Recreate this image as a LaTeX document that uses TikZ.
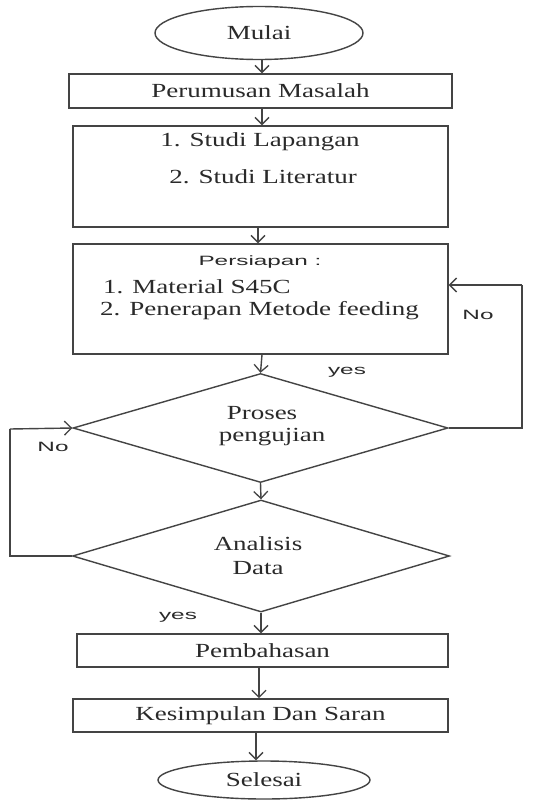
\documentclass[tikz,border=0pt]{standalone}
\usepackage{fontspec}
\usetikzlibrary{shapes.geometric,arrows.meta,calc}
\newfontfamily\serifx[FakeStretch=1.35]{Liberation Serif}
\newfontfamily\sansx[FakeStretch=1.8]{Liberation Sans}
\definecolor{ln}{HTML}{444444}
\definecolor{tx}{HTML}{2A2A2A}
\begin{document}
\begin{tikzpicture}[x=1pt,y=-1pt,
  every node/.style={text=tx},
  boxx/.style={draw=ln,line width=1.4pt,rectangle,inner sep=0pt},
  ovalx/.style={draw=ln,line width=1.4pt,ellipse,inner sep=0pt},
  diax/.style={draw=ln,line width=1.4pt,diamond,inner sep=0pt},
  stxt/.style={font=\serifx\fontsize{20}{24}\selectfont,inner sep=0pt},
  sstxt/.style={font=\sansx\fontsize{13.5}{16}\selectfont,inner sep=0pt},
  arr/.style={draw=ln,line width=1.4pt,-{Straight Barb[length=7pt,width=14pt,line width=1.3pt]}},
  lnx/.style={draw=ln,line width=1.4pt}]
\useasboundingbox[fill=white] (0,0) rectangle (545,800);

\node[ovalx,minimum width=208,minimum height=53,stxt] (mulai) at (259,33) {Mulai};
\node[boxx,minimum width=383,minimum height=34,stxt] (perumusan) at (260.5,91) {Perumusan Masalah};
\node[boxx,minimum width=375,minimum height=101] (studi) at (260.5,176.5) {};
\node[stxt] (s1) at (260,142) {1. Studi Lapangan};
\node[stxt] (s2) at (263,177) {2. Studi Literatur};
\node[boxx,minimum width=375,minimum height=110] (persiapan) at (260.5,299) {};
\node[sstxt] (p0) at (260,262) {Persiapan :};
\node[stxt,anchor=west] (p1) at (103,287) {1. Material S45C};
\node[stxt,anchor=west] (p2) at (100,311) {2. Penerapan Metode feeding};
\node[diax,minimum width=375,minimum height=109,aspect=3.44] (d1) at (260.5,428) {};
\node[stxt] (d1a) at (262,413) {Proses};
\node[stxt] (d1b) at (272,437) {pengujian};
\node[diax,minimum width=377,minimum height=112,aspect=3.37] (d2) at (261,556) {};
\node[stxt] (d2a) at (258,544) {Analisis};
\node[stxt] (d2b) at (258,568) {Data};
\node[boxx,minimum width=371,minimum height=33,stxt] (pembahasan) at (262.5,650.5) {Pembahasan};
\node[boxx,minimum width=375,minimum height=33,stxt,line width=1.7pt] (kesimpulan) at (260.5,715.5) {Kesimpulan Dan Saran};
\node[ovalx,minimum width=212,minimum height=38,stxt] (selesai) at (264,780) {Selesai};

\node[sstxt] (yes1) at (347,372) {yes};
\node[sstxt] (no1) at (478,315) {No};
\node[sstxt] (no2) at (53,447) {No};
\node[sstxt] (yes2) at (178,617) {yes};

\draw[arr] (mulai.south -| 262,0) -- (perumusan.north -| 262,0);
\draw[arr] (perumusan.south -| 262,0) -- (studi.north -| 262,0);
\draw[arr] (studi.south -| 258,0) -- (persiapan.north -| 258,0);
\draw[arr] (persiapan.south -| 262,0) -- (d1.north);
\draw[arr] (d1.south) -- (d2.north);
\draw[arr] (d2.south) -- (pembahasan.north -| d2.south);
\draw[arr] (pembahasan.south -| 259,0) -- (kesimpulan.north -| 259,0);
\draw[arr] (kesimpulan.south -| 256,0) -- (selesai.north -| 256,0);

\coordinate (rc) at (522,285);
\coordinate (rin) at (persiapan.east |- rc);
\draw[lnx] (d1.east) -| (rc);
\draw[arr] (rc) -- (rin);
\coordinate (lc) at (10,429);
\draw[lnx] (d2.west) -| (lc);
\draw[arr] (lc) -- (d1.west);
\end{tikzpicture}
\end{document}
